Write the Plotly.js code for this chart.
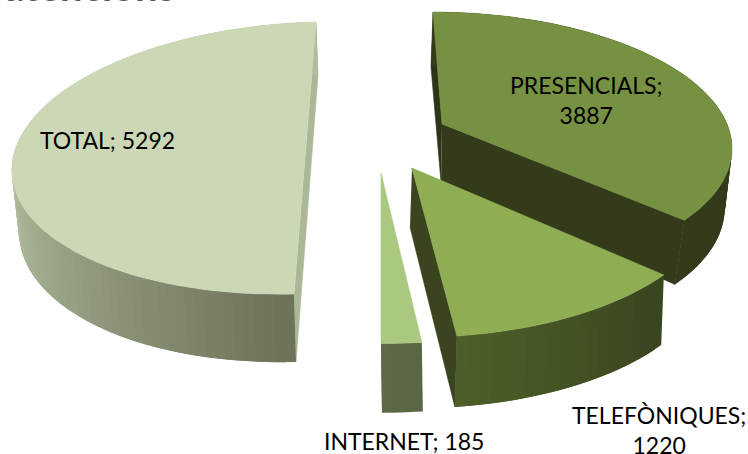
<!DOCTYPE html>
<html><head><meta charset="utf-8">
<script src="https://cdn.plot.ly/plotly-3.0.1.min.js"></script>
<style>html,body{margin:0;padding:0;background:#fff;overflow:hidden}</style>
</head><body><div id="chart" style="width:748px;height:454px"></div>
<script>
var categories = ["PRESENCIALS", "TELEFÒNIQUES", "INTERNET", "TOTAL"];
var values = [3887, 1220, 185, 5292];
var titleText = "atencions";

// Drawing geometry of each exploded 3D wedge (not data)
var geometry = [
 {V:[442,124],U:[-10.35,-128.8],W:[285,0],k:.15,dv:[-1,58],d0:[-2,55],d1:[-11,66],top:"#779143",
  side:["#333B1B","#333B1B"],cutEnd:"#333B1B",cutStart:"#2C3417"},
 {V:[412,168],U:[-5.25,-143.9],W:[301,-.7],k:.15,dv:[-2,59],d0:[-6,66],d1:[-2,71],top:"#8FAE54",
  side:["#3A4520","#4E6029"],cutEnd:"#3A4520"},
 {V:[381,173],U:[0,-145],W:[317,0],k:.15,dv:[1,60],d0:[1,69],d1:[1,69],top:"#ABC880",
  side:["#5A6544","#5F6B4A"]},
 {V:[305,158],U:[11,-136],W:[293,-7],k:0,dv:[2,60],d0:[2,53],d1:[2,68],bulge:5,top:"#CCD8B5",
  side:["#6D7359","#B0BC9E"],cutEnd:"#ABB898",gradTo:262}
];

function hex(a,b,t){
  var pa=[1,3,5].map(function(i){return parseInt(a.substr(i,2),16)});
  var pb=[1,3,5].map(function(i){return parseInt(b.substr(i,2),16)});
  return "rgb("+pa.map(function(v,i){return Math.round(v+(pb[i]-v)*t)}).join(",")+")";
}
var sum = values.reduce(function(a,b){return a+b},0);
var traces = [];
function poly(pts,color,lw){
  traces.push({type:"scatter",mode:"lines",x:pts.map(function(p){return p[0]}),y:pts.map(function(p){return p[1]}),
    fill:"toself",fillcolor:color,line:{color:color,width:lw===undefined?0.6:lw},hoverinfo:"skip",showlegend:false});
}
function P(g,deg){
  var r=deg*Math.PI/180,c=Math.cos(r),s=Math.sin(r),den=1+g.k*c;
  return [g.V[0]+(c*g.U[0]+s*g.W[0])/den, g.V[1]+(c*g.U[1]+s*g.W[1])/den];
}
function D(g,deg){
  var r=deg*Math.PI/180,t=(1-Math.cos(r))/2,b=(g.bulge||0)*Math.sin(r)*Math.sin(r);
  return [g.d0[0]+(g.d1[0]-g.d0[0])*t+b, g.d0[1]+(g.d1[1]-g.d0[1])*t];
}
function add(a,b){return [a[0]+b[0],a[1]+b[1]]}

var starts=[],acc=0;
values.forEach(function(v){starts.push(acc/sum*360);acc+=v});

// painting order: Total, Presencials, Internet, Telefòniques
[3,0,2,1].forEach(function(i){
  var g=geometry[i],a0=starts[i],a1=a0+values[i]/sum*360;
  var vb=add(g.V,g.dv);
  if(g.cutStart){poly([g.V,P(g,a0),add(P(g,a0),D(g,a0)),vb],g.cutStart);}
  if(i===3){ // single straight face across the diameter
    poly([P(g,a1),add(P(g,a1),D(g,a1)),add(P(g,a0),D(g,a0)),P(g,a0)],g.cutEnd);
  } else if(g.cutEnd){
    poly([g.V,P(g,a1),add(P(g,a1),D(g,a1)),vb],g.cutEnd);
  }
  // side wall: painted from the far end so that each band overlaps the previous one
  var n=Math.max(4,Math.min(90,Math.round((a1-a0)/2)));
  for(var j=n-1;j>=0;j--){
    var t0=a0+(a1-a0)*j/n,pts=[];
    var span=Math.min(a1,t0+(a1-a0)*2/n);
    for(var m=0;m<=6;m++){pts.push(P(g,t0+(span-t0)*m/6));}
    for(m=6;m>=0;m--){var th=t0+(span-t0)*m/6;pts.push(add(P(g,th),D(g,th)));}
    var tc=(j+.5)/n;
    if(g.gradTo){tc=Math.min(1,(a0+(a1-a0)*tc-a0)/(g.gradTo-a0));}
    poly(pts,hex(g.side[0],g.side[1],tc),0);
  }
  var top=[g.V];
  for(var q=0;q<=90;q++){top.push(P(g,a0+(a1-a0)*q/90));}
  top.push(g.V);
  poly(top,g.top);
});

function lab(x,y,txt){return {xref:"x",yref:"y",x:x,y:y,text:txt,showarrow:false,xanchor:"center",yanchor:"middle",
  align:"center",font:{family:"Lato, Carlito, sans-serif",size:23,color:"#000"}};}
var annotations=[
  lab(107.5,140,categories[3]+"; "+values[3]),
  lab(586,99.5,categories[0]+";<br>"+values[0]),
  lab(659,429.5,categories[1]+";<br>"+values[1]),
  lab(404,441,categories[2]+"; "+values[2]),
  {xref:"x",yref:"y",x:2,y:12.5,xanchor:"left",yanchor:"bottom",text:"<b>"+titleText+"</b>",showarrow:false,
   font:{family:"Lato, sans-serif",size:40,color:"#595959"}}
];
Plotly.newPlot("chart",traces,{
  width:748,height:454,margin:{l:0,r:0,t:0,b:0},paper_bgcolor:"#fff",plot_bgcolor:"#fff",showlegend:false,
  xaxis:{range:[0,748],visible:false,fixedrange:true},
  yaxis:{range:[454,0],visible:false,fixedrange:true},
  annotations:annotations
},{displayModeBar:false,staticPlot:true});
</script></body></html>
